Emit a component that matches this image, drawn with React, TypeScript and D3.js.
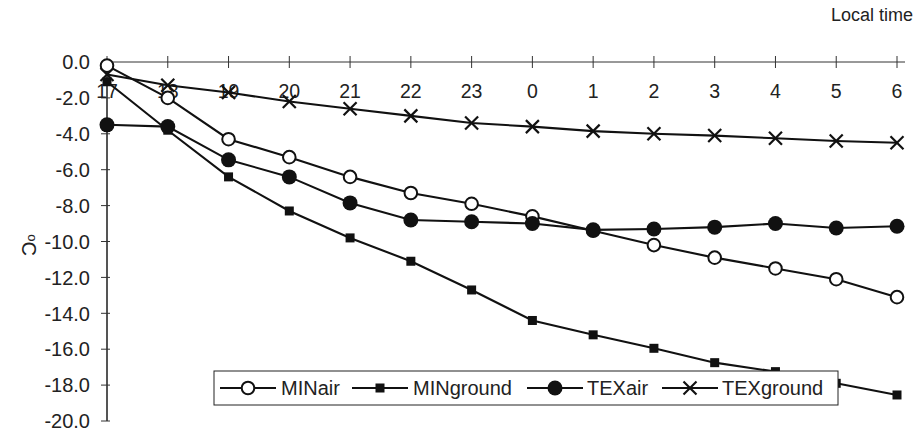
import React from "react";
import * as d3 from "d3";

const categories = ["17", "18", "19", "20", "21", "22", "23", "0", "1", "2", "3", "4", "5", "6"];
const minAir = [-0.2, -2.0, -4.3, -5.3, -6.4, -7.3, -7.9, -8.6, -9.4, -10.2, -10.9, -11.5, -12.1, -13.1];
const minGround = [-1.1, -3.8, -6.4, -8.3, -9.8, -11.1, -12.7, -14.4, -15.2, -15.95, -16.75, -17.25, -17.9, -18.55];
const texAir = [-3.5, -3.6, -5.45, -6.4, -7.85, -8.8, -8.9, -9.0, -9.35, -9.3, -9.2, -9.0, -9.25, -9.15];
const texGround = [-0.7, -1.3, -1.7, -2.2, -2.6, -3.0, -3.4, -3.6, -3.85, -4.0, -4.1, -4.25, -4.4, -4.5];
const yTicks = [0, -2, -4, -6, -8, -10, -12, -14, -16, -18, -20];
const seriesNames = ["MINair", "MINground", "TEXair", "TEXground"];

const W = 918;
const H = 436;
const FONT = "'Liberation Sans', Arial, sans-serif";

type Kind = "open" | "square" | "filled" | "x";

function Marker({ kind, x, y }: { kind: Kind; x: number; y: number }) {
  if (kind === "open") return <circle cx={x} cy={y} r={6.3} fill="#fff" stroke="#111" strokeWidth={2} />;
  if (kind === "filled") return <circle cx={x} cy={y} r={7.5} fill="#111" />;
  if (kind === "square") return <rect x={x - 4.5} y={y - 4.5} width={9} height={9} fill="#111" />;
  const s = 6.5;
  return (
    <g stroke="#111" strokeWidth={2.2}>
      <line x1={x - s} y1={y - s} x2={x + s} y2={y + s} />
      <line x1={x - s} y1={y + s} x2={x + s} y2={y - s} />
    </g>
  );
}

export default function App() {
  const x = d3.scalePoint<string>().domain(categories).range([107, 897]);
  const y = d3.scaleLinear().domain([-20, 0]).range([421, 62]);
  const line = d3
    .line<number>()
    .x((_, i) => x(categories[i]) as number)
    .y((d) => y(d));

  const series: { data: number[]; kind: Kind }[] = [
    { data: minGround, kind: "square" },
    { data: texGround, kind: "x" },
    { data: minAir, kind: "open" },
    { data: texAir, kind: "filled" },
  ];

  const legendItems: { name: string; kind: Kind; x0: number; tx: number }[] = [
    { name: seriesNames[0], kind: "open", x0: 220, tx: 281 },
    { name: seriesNames[1], kind: "square", x0: 352, tx: 413 },
    { name: seriesNames[2], kind: "filled", x0: 527, tx: 587 },
    { name: seriesNames[3], kind: "x", x0: 662, tx: 722 },
  ];

  const y0 = y(0);

  return (
    <svg
      width={W}
      height={H}
      style={{ position: "absolute", left: 0, top: 0, background: "#fff" }}
      fontFamily={FONT}
    >
      <rect width={W} height={H} fill="#fff" />
      <text x={913} y={21} fontSize={18} textAnchor="end" fill="#222">
        Local time
      </text>

      {/* y axis */}
      <line x1={107} x2={107} y1={y0} y2={y(-20)} stroke="#555" strokeWidth={2} />
      {yTicks.map((t) => (
        <g key={t}>
          <line x1={101} x2={110} y1={y(t)} y2={y(t)} stroke="#333" strokeWidth={1} />
          <text x={90} y={y(t)} dy="0.36em" fontSize={20} textAnchor="end" fill="#222">
            {t.toFixed(1)}
          </text>
        </g>
      ))}

      {/* x axis at 0 */}
      <line x1={107} x2={905} y1={y0} y2={y0} stroke="#333" strokeWidth={1} />
      {categories.map((c) => (
        <g key={c}>
          <line x1={x(c)} x2={x(c)} y1={y0 - 6} y2={y0 + 6} stroke="#333" strokeWidth={1} />
          <text x={x(c)} y={y0 + 29} dy="0.36em" fontSize={19.5} textAnchor="middle" fill="#222">
            {c}
          </text>
        </g>
      ))}

      {/* y axis title */}
      <text transform={`translate(22,245) rotate(90)`} fontSize={20} textAnchor="middle" fill="#222">
        <tspan fontSize={13} dy="-6">o</tspan>
        <tspan dy="6">C</tspan>
      </text>

      {/* series */}
      {series.map((s, si) => (
        <g key={si}>
          <path d={line(s.data) || ""} fill="none" stroke="#111" strokeWidth={2.1} />
          {s.data.map((v, i) => (
            <Marker key={i} kind={s.kind} x={x(categories[i]) as number} y={y(v)} />
          ))}
        </g>
      ))}

      {/* legend */}
      <rect x={214} y={371} width={624} height={34} fill="#fff" stroke="#222" strokeWidth={1} />
      {legendItems.map((it) => (
        <g key={it.name}>
          <line x1={it.x0} x2={it.x0 + 56} y1={388} y2={388} stroke="#111" strokeWidth={2} />
          <Marker kind={it.kind} x={it.x0 + 28} y={388} />
          <text x={it.tx} y={388} dy="0.36em" fontSize={20} fill="#222">
            {it.name}
          </text>
        </g>
      ))}
    </svg>
  );
}
